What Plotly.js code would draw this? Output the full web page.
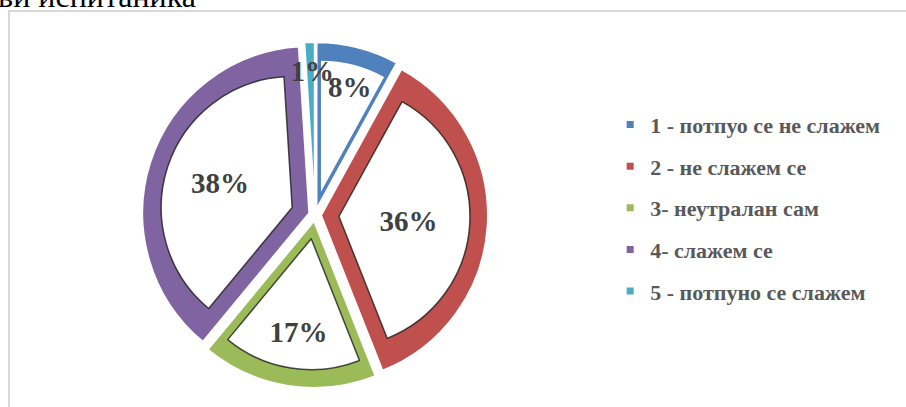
<!DOCTYPE html>
<html>
<head>
<meta charset="utf-8">
<script src="https://cdn.plot.ly/plotly-3.0.1.min.js"></script>
<style>html,body{margin:0;padding:0;background:#fff;}#chart{width:906px;height:407px;}</style>
</head>
<body>
<div id="chart"></div>
<script>
const categories = ['1 - потпуо се не слажем', '2 - не слажем се', '3- неутралан сам', '4- слажем се', '5 - потпуно се слажем'];
const values = [8, 36, 17, 38, 1];
const percentLabels = ['8%', '36%', '17%', '38%', '1%'];
const colors = ['#4f81bd', '#c0504d', '#9bbb59', '#8064a2', '#4bacc6'];
const titleText = 'Ставови испитаника';

const W = 906, H = 407;
const cx = 315, cy = 215;

function box(half, dx) {
  dx = dx || 0;
  return { x: [(cx + dx - half) / W, (cx + dx + half) / W], y: [(H - cy - half) / H, (H - cy + half) / H] };
}
const clear = 'rgba(0,0,0,0)';
const labelFont = { family: 'Liberation Serif', size: 29, weight: 700, color: '#404040' };

const common = {
  type: 'pie', values: values, labels: categories, sort: false,
  direction: 'clockwise', rotation: 0, showlegend: false
};

const traces = [];
// coloured slices
traces.push(Object.assign({}, common, {
  pull: 0.036, textinfo: 'none', hoverinfo: 'label+percent',
  domain: box(173),
  marker: { colors: colors, line: { color: '#ffffff', width: 2 } }
}));
// white inner faces (leave a coloured rim)
traces.push(Object.assign({}, common, {
  pull: 0.183, textinfo: 'none', hoverinfo: 'skip',
  domain: box(155),
  marker: {
    colors: ['#ffffff', '#ffffff', '#ffffff', '#ffffff', clear],
    line: { color: 'rgba(20,20,20,0.75)', width: [0, 1.5, 1.5, 1.5, 0] }
  }
}));
// percentage labels inside the slices
traces.push(Object.assign({}, common, {
  pull: [0, 0.03, 0.055, 0.1, 0],
  text: percentLabels, textinfo: 'text',
  textposition: ['inside', 'inside', 'inside', 'inside', 'none'],
  insidetextorientation: 'horizontal',
  insidetextfont: labelFont, textfont: labelFont,
  hoverinfo: 'skip', domain: box(181.5, 2),
  marker: { colors: values.map(() => clear), line: { width: 0 } }
}));
// label of the thin slice
traces.push(Object.assign({}, common, {
  text: percentLabels, textinfo: 'text',
  textposition: ['none', 'none', 'none', 'none', 'outside'],
  outsidetextfont: labelFont, textfont: labelFont,
  hoverinfo: 'skip', domain: box(128, 31),
  marker: { colors: values.map(() => clear), line: { width: 0 } }
}));
// legend entries
categories.forEach((c, i) => {
  traces.push({
    type: 'scatter', mode: 'markers', x: [null], y: [null],
    name: c, legendgroup: 'g' + i,
    marker: { symbol: 'square', size: 7, color: colors[i] }
  });
});

const layout = {
  width: W, height: H,
  margin: { l: 0, r: 0, t: 0, b: 0 },
  paper_bgcolor: '#fff', plot_bgcolor: clear,
  title: { text: titleText, x: 196 / W, xanchor: 'right', y: 0.984, yanchor: 'bottom',
           font: { family: 'Liberation Serif', size: 32, color: '#000' } },
  xaxis: { visible: false }, yaxis: { visible: false },
  legend: {
    x: 0.6735, xanchor: 'left', y: 0.745, yanchor: 'top',
    tracegroupgap: 10,
    font: { family: 'Liberation Serif', size: 22, weight: 700, color: '#595959' },
    bgcolor: clear
  },
  shapes: [{
    type: 'rect', xref: 'paper', yref: 'paper', layer: 'below',
    x0: 9 / W, x1: 1.05, y0: -0.05, y1: 1 - 11 / H,
    line: { color: '#d9d9d9', width: 2 }, fillcolor: clear
  }],
  showlegend: true
};

Plotly.newPlot('chart', traces, layout, { displayModeBar: false, staticPlot: true });
</script>
</body>
</html>
